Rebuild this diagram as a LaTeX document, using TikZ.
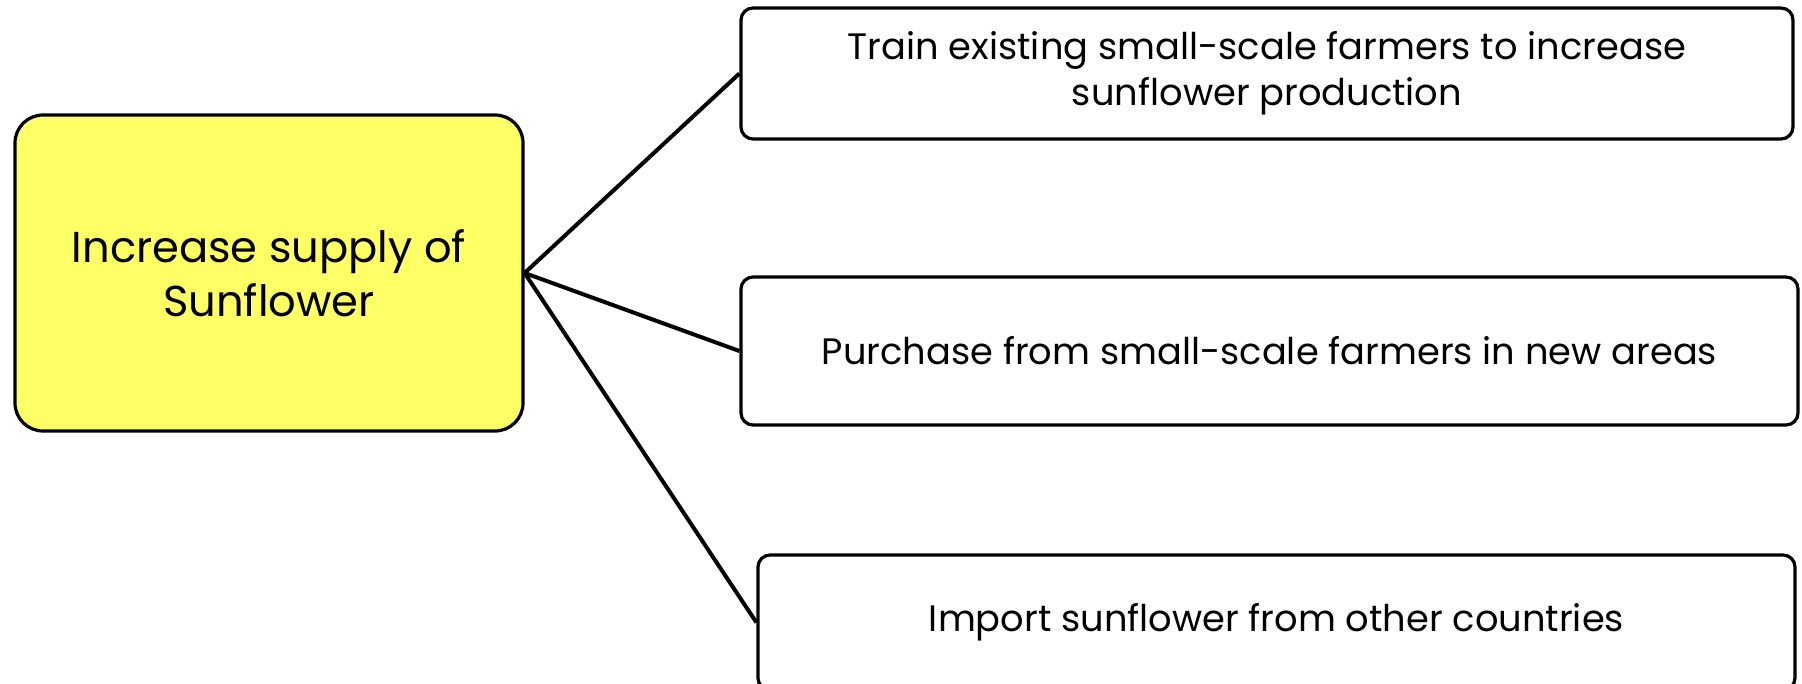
\documentclass[tikz,border=0pt]{standalone}
\usepackage{fontspec}
\setmainfont{Poppins}
\definecolor{mainyellow}{HTML}{FFFF66}
\begin{document}
\begin{tikzpicture}[x=0.5pt,y=-0.5pt,
  box/.style={draw=black, line width=1.6pt, fill=white, rounded corners=6pt, inner sep=0pt, align=center, font=\fontsize{18.4}{23}\selectfont},
  mainbox/.style={draw=black, line width=1.6pt, fill=mainyellow, rounded corners=14pt, inner sep=0pt, align=center, font=\fontsize{21.6}{27}\selectfont},
  link/.style={line width=2pt, black}]
\useasboundingbox (0,0) rectangle (1802,684);
\node[mainbox, minimum width=254pt, minimum height=158pt] (m) at (269,273) {Increase supply of\\Sunflower};
\node[box, minimum width=526pt, minimum height=65.5pt] (a) at (1267,73.5) {Train existing small-scale farmers to increase\\sunflower production};
\node[box, minimum width=528.5pt, minimum height=74pt] (b) at (1269.5,351) {Purchase from small-scale farmers in new areas};
\node[box, minimum width=518.5pt, minimum height=67.5pt] (c) at (1276.5,622.5) {Import sunflower from other countries};
\draw[link] (m.east) -- (a.west);
\draw[link] (m.east) -- (b.west);
\draw[link] (m.east) -- (c.west);
\end{tikzpicture}
\end{document}
